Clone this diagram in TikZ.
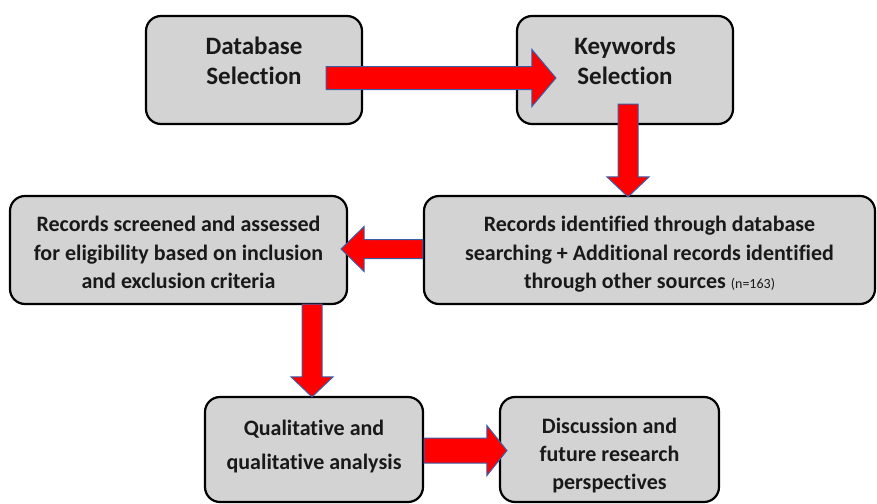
\documentclass[tikz,border=0pt]{standalone}
\usepackage{fontspec}
\setmainfont{Carlito}[Ligatures=NoCommon]
\usepackage{tikz}
\usetikzlibrary{calc}
\usepackage{xcolor}
\definecolor{boxgray}{HTML}{D3D3D3}
\definecolor{arrred}{HTML}{FF0000}
\definecolor{arrblue}{HTML}{3A5FA8}
\tikzset{
  stage/.style={draw=black, line width=2.2pt, fill=boxgray, rounded corners=15pt, align=center,
    minimum height=108pt, text=black!90, font=\bfseries\fontsize{22}{#1}\selectfont},
  stage/.default=28.5,
  bigstage/.style={stage, font=\bfseries\fontsize{25}{30}\selectfont},
  lift/.style={text height=#1, text depth=0pt},
  blockarr/.style={fill=arrred, draw=arrblue, line width=1pt, line join=miter},
}
% block arrow: start, tip, half shaft, half head, head length
\newcommand{\blockarrow}[5]{%
  \draw[blockarr] let \p1=#1, \p2=#2, \n1={atan2(\y2-\y1,\x2-\x1)}, \n2={veclen(\x2-\x1,\y2-\y1)} in
    [shift={(\p1)}, rotate=\n1] (0pt,#3pt) -- ({\n2-#5pt},#3pt) -- ({\n2-#5pt},#4pt) -- (\n2,0pt)
    -- ({\n2-#5pt},-#4pt) -- ({\n2-#5pt},-#3pt) -- (0pt,-#3pt) -- cycle;}

\begin{document}
\begin{tikzpicture}[x=1pt, y=1pt]
  \useasboundingbox (0,0) rectangle (877,-503);
  % stages
  \node[bigstage, lift=29.7pt, minimum width=216pt] (db) at (254,-70) {Database\\Selection};
  \node[bigstage, lift=29.7pt, minimum width=216pt] (kw) at (625,-70) {Keywords\\Selection};
  \node[stage, lift=77.4pt, minimum width=451pt] (rid) at (649.5,-250)
    {Records identified through database\\searching + Additional records identified\\through other sources {\mdseries\fontsize{14}{28.5}\selectfont(n=163)}};
  \node[stage, lift=77.4pt, minimum width=337pt] (rsc) at (178.5,-250)
    {Records screened and assessed\\for eligibility based on inclusion\\and exclusion criteria};
  \node[stage=34, lift=39pt, minimum width=218pt, minimum height=105pt] (qa) at (314,-449.5)
    {Qualitative and\\qualitative analysis};
  \node[stage=28, lift=80pt, minimum width=219pt, minimum height=105pt] (dis) at (609.5,-449.5)
    {Discussion and\\future research\\perspectives};
  % block arrows
  \blockarrow{([xshift=-37pt,yshift=-8pt]db.east)}{([xshift=40pt,yshift=-8pt]kw.west)}{11.5}{28.5}{24}
  \blockarrow{([xshift=3pt,yshift=21pt]kw.south)}{([xshift=-21.5pt,yshift=-2pt]rid.north)}{10}{21}{20}
  \blockarrow{([yshift=1pt]rid.west)}{([xshift=-7pt,yshift=1pt]rsc.east)}{9.5}{22.5}{23}
  \blockarrow{([xshift=133.5pt,yshift=1pt]rsc.south)}{([xshift=-2pt,yshift=-1pt]qa.north)}{10}{21}{20}
  \blockarrow{([yshift=-1pt]qa.east)}{([xshift=8pt,yshift=-1pt]dis.west)}{12.5}{25}{20}
\end{tikzpicture}
\end{document}
